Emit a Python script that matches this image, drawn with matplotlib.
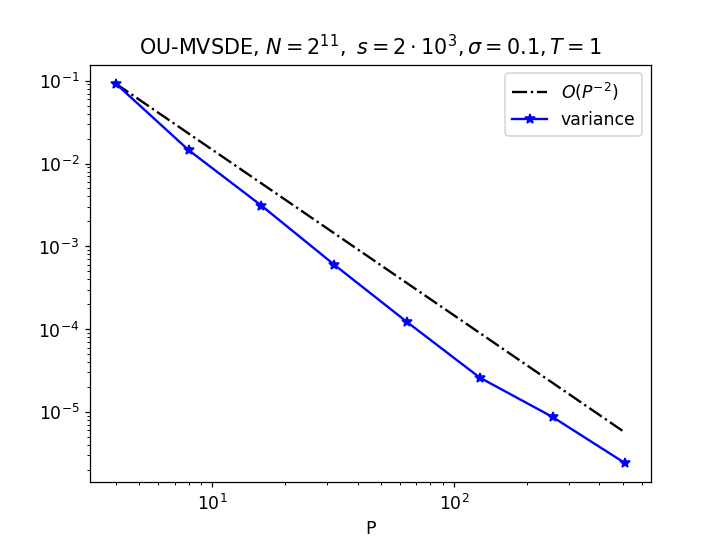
import matplotlib
matplotlib.use("Agg")
import matplotlib.pyplot as plt
import numpy as np

P = [4, 8, 16, 32, 64, 128, 256, 512]
variance = [0.092, 0.0145, 0.0031, 0.0006, 0.000122, 2.6e-5, 8.7e-6, 2.4e-6]
ref_start = 0.092

plt.rcParams['font.size'] = 11

Pa = np.array(P, dtype=float)
ref = ref_start * (Pa / Pa[0]) ** -2

fig, ax = plt.subplots(figsize=(6.4, 4.8), dpi=113)
ax.loglog(Pa, ref, 'k-.', label=r'$O(P^{-2})$')
ax.loglog(P, variance, 'b-*', markersize=7, label='variance')
ax.set_xlabel('P')
ax.set_title(r'OU-MVSDE, $N=2^{11},\ s=2\cdot 10^3, \sigma=0.1, T=1$', fontsize=13.2)
ax.legend()
fig.savefig('out.png', dpi=113)
